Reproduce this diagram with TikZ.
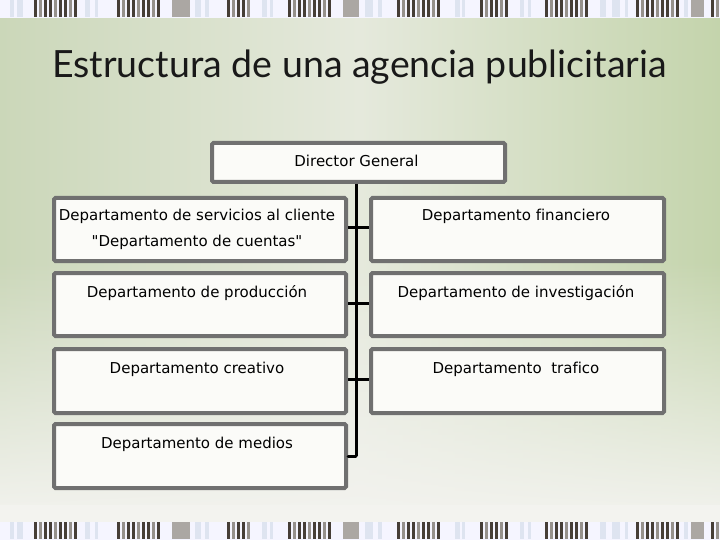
\documentclass[tikz,border=0pt]{standalone}
\usepackage{fontspec}
\setmainfont[Ligatures={NoCommon,TeXOff}]{DejaVu Sans}
\newfontfamily\titlefont{Lato}
\usetikzlibrary{fadings}
\definecolor{bgL}{RGB}{203,215,185}
\definecolor{bgM}{RGB}{229,233,220}
\definecolor{bgR}{RGB}{196,212,172}
\definecolor{bgB}{RGB}{243,243,239}
\definecolor{boxline}{RGB}{112,112,112}
\definecolor{boxfill}{RGB}{251,251,248}
\definecolor{stripeD}{RGB}{70,62,55}
\definecolor{stripeG}{RGB}{150,145,140}
\definecolor{stripeL}{RGB}{222,228,240}
\definecolor{titlecol}{RGB}{25,25,25}
\tikzset{
  deptbox/.style={draw=boxline, line width=4pt, fill=boxfill, rounded corners=1.5pt, inner sep=0pt, anchor=north west},
  depttext/.style={font=\fontsize{15}{26}\selectfont, align=center, anchor=center, inner sep=0pt},
  tie/.style={line width=3pt, black}
}
\begin{document}
\begin{tikzpicture}[x=1pt,y=-1pt]
\useasboundingbox (0,0) rectangle (720,540);
% background
\shade[left color=bgL, right color=bgR, middle color=bgM] (0,0) rectangle (720,540);
\fill[bgB, path fading=north] (0,260) rectangle (720,522);
\fill[bgB] (0,505) rectangle (720,522);
% stripe bands
\foreach \yy in {0,522}{
  \fill[white!96!blue] (0,\yy) rectangle (720,\yy+18);
  \foreach \a/\w in {10/4,17/6,85/5,95/3,195/6,205/4,262/5,270/3,365/8,378/4,455/5,462/3,520/4,528/3,600/6,612/8,625/3,684/4}
    \fill[stripeL] (\a,\yy) rectangle (\a+\w,\yy+17);
  \foreach \a/\b in {172/190,343/359,691/704}
    \fill[stripeG!80!white] (\a,\yy) rectangle (\b,\yy+17);
  \foreach \a/\b in {34/76,117/158,227/248,288/328,397/438,480/505,545/585,636/677,711/720}{
    \pgfmathsetmacro{\n}{int((\b-\a)/5)}
    \foreach \k in {0,...,\n}{
      \pgfmathsetmacro{\xx}{\a+5*\k}
      \pgfmathparse{mod(\k,3)==1 ? "stripeG" : "stripeD"}
      \fill[\pgfmathresult] (\xx,\yy) rectangle (\xx+2.6,\yy+17);
    }
  }
}
% title
\node[anchor=base west, inner sep=0pt, text=titlecol, font=\titlefont\fontsize{37.5}{42}\selectfont] (title) at (52,78) {Estructura de una agencia publicitaria};
% boxes
\node[deptbox, minimum width=293pt, minimum height=39pt] (dg) at (210,141) {};
\node[depttext] (dgt) at (356.5,161) {Director General};
\node[deptbox, minimum width=292pt, minimum height=63pt] (l1) at (52,196) {};
\node[depttext] (l1t) at (197,229) {Departamento de servicios al cliente\\"Departamento de cuentas"};
\node[deptbox, minimum width=292pt, minimum height=63pt] (l2) at (52,271) {};
\node[depttext] (l2t) at (197,293) {Departamento de producción};
\node[deptbox, minimum width=292pt, minimum height=64pt] (l3) at (52,347) {};
\node[depttext] (l3t) at (197,369) {Departamento creativo};
\node[deptbox, minimum width=292pt, minimum height=64pt] (l4) at (52,422) {};
\node[depttext] (l4t) at (197,444) {Departamento de medios};
\node[deptbox, minimum width=293pt, minimum height=63pt] (r1) at (369,196) {};
\node[depttext] (r1t) at (516,216) {Departamento financiero};
\node[deptbox, minimum width=293pt, minimum height=63pt] (r2) at (369,271) {};
\node[depttext] (r2t) at (516,293) {Departamento de investigación};
\node[deptbox, minimum width=293pt, minimum height=64pt] (r3) at (369,347) {};
\node[depttext] (r3t) at (516,369) {Departamento\ \ trafico};
% connectors
\coordinate (spineEnd) at (356,456);
\draw[tie] (dg.south -| spineEnd) -- (spineEnd);
\draw[tie] (l1.east |- 0,228) -- (r1.west |- 0,228);
\draw[tie] (l2.east |- 0,303) -- (r2.west |- 0,303);
\draw[tie] (l3.east |- 0,379) -- (r3.west |- 0,379);
\draw[tie, line cap=round] (l4.east |- spineEnd) -- (spineEnd);
\end{tikzpicture}
\end{document}
